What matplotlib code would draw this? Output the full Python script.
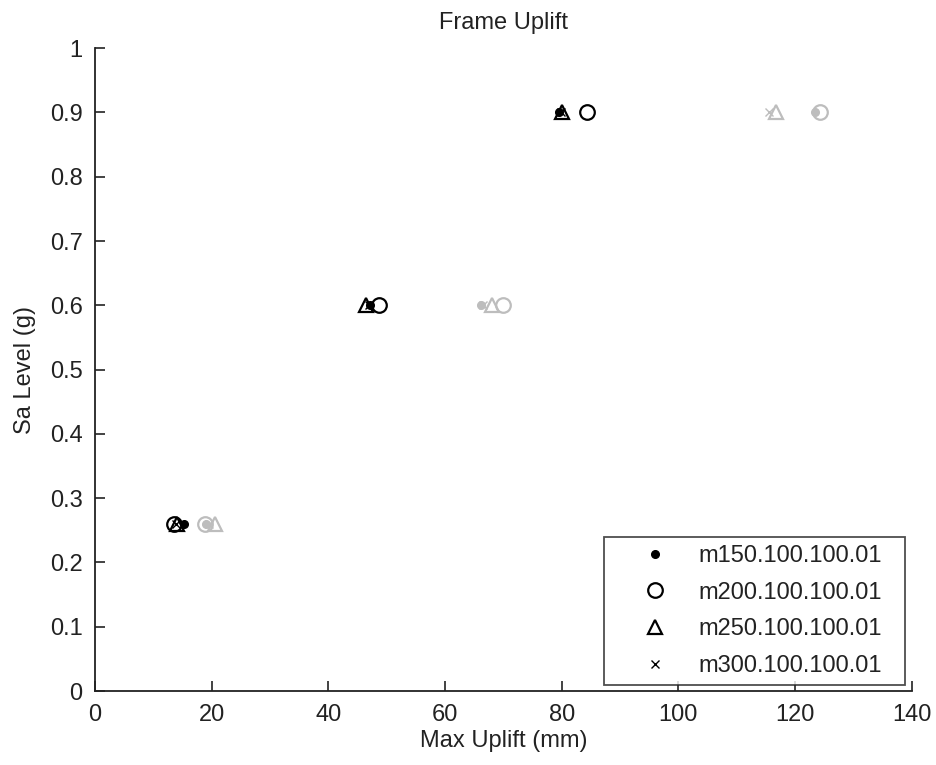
import matplotlib
matplotlib.use("Agg")
import matplotlib.pyplot as plt

plt.rcParams['font.family'] = ['Liberation Sans', 'DejaVu Sans']

sa_levels = [0.26, 0.6, 0.9]
labels = ["m150.100.100.01", "m200.100.100.01", "m250.100.100.01", "m300.100.100.01"]
markers = ['.', 'o', '^', 'x']

# Max uplift (mm) per model, first case (black)
uplift_black = {
    "m150.100.100.01": [15.3, 47.1, 79.5],
    "m200.100.100.01": [13.5, 48.7, 84.3],
    "m250.100.100.01": [14.0, 46.4, 80.0],
    "m300.100.100.01": [13.8, 46.9, 79.8],
}
# Max uplift (mm) per model, second case (gray)
uplift_gray = {
    "m150.100.100.01": [19.0, 66.2, 123.5],
    "m200.100.100.01": [18.8, 70.0, 124.3],
    "m250.100.100.01": [20.5, 68.0, 116.8],
    "m300.100.100.01": [19.5, 66.5, 115.5],
}

FS = 17
INK = '#222222'
fig = plt.figure(figsize=(9.36, 7.65), dpi=100)
ax = fig.add_axes([0.1015, 0.0967, 0.8725, 0.8403])


def style(m):
    if m == '.':
        return dict(markersize=11, markeredgewidth=1.0)
    if m == 'x':
        return dict(markersize=6, markeredgewidth=1.0)
    return dict(markersize=10.5, markeredgewidth=1.6)


for lab, m in zip(labels, markers):
    ax.plot(uplift_black[lab], sa_levels, linestyle='none', marker=m,
            color='black', markerfacecolor='none' if m in 'o^' else 'black',
            label=lab, **style(m))
for lab, m in zip(labels, markers):
    ax.plot(uplift_gray[lab], sa_levels, linestyle='none', marker=m,
            color='#bdbdbd', markerfacecolor='none' if m in 'o^' else '#bdbdbd',
            **style(m))

ax.set_xlim(0, 140)
ax.set_ylim(0, 1)
ax.set_xticks(range(0, 141, 20))
ax.set_yticks([i / 10 for i in range(11)])
ax.set_yticklabels(['0'] + [f'0.{i}' for i in range(1, 10)] + ['1'])
ax.tick_params(direction='in', length=7, labelsize=FS, width=1.2, pad=9,
               colors=INK)
ax.spines['top'].set_visible(False)
ax.spines['right'].set_visible(False)
for s in ('left', 'bottom'):
    ax.spines[s].set_linewidth(1.3)
    ax.spines[s].set_color(INK)

ax.set_title("Frame Uplift", fontsize=FS, pad=14, color=INK)
ax.set_xlabel("Max Uplift (mm)", fontsize=FS, labelpad=3, color=INK)
ax.set_ylabel("Sa Level (g)", fontsize=FS, labelpad=10, color=INK)

leg = ax.legend(loc='lower left', fontsize=FS, frameon=True, fancybox=False,
                edgecolor=INK, borderpad=0.35, labelspacing=0.62,
                handlelength=3.6, handletextpad=0.05, borderaxespad=0.0,
                mode='expand', bbox_to_anchor=(0.623, 0.0093, 0.3684, 0.2))
leg.get_frame().set_linewidth(1.3)
for t in leg.get_texts():
    t.set_color(INK)

fig.savefig("out.png", dpi=100)
